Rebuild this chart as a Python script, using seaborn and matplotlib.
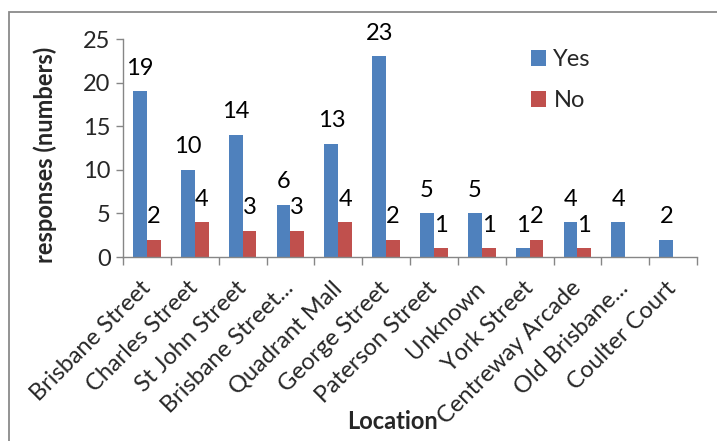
import numpy as np
import pandas as pd
import matplotlib
matplotlib.use("Agg")
import matplotlib.pyplot as plt
from matplotlib.patches import Patch, Rectangle
import seaborn as sns

# Survey responses by location
locations = ["Brisbane Street", "Charles Street", "St John Street", "Brisbane Street...",
             "Quadrant Mall", "George Street", "Paterson Street", "Unknown",
             "York Street", "Centreway Arcade", "Old Brisbane...", "Coulter Court"]
yes_counts = [19, 10, 14, 6, 13, 23, 5, 5, 1, 4, 4, 2]
no_counts = [2, 4, 3, 3, 4, 2, 1, 1, 2, 1, np.nan, np.nan]
series = ["Yes", "No"]
series_colors = ["#4F81BD", "#C0504D"]
y_ticks = [0, 5, 10, 15, 20, 25]

df = pd.DataFrame({
    "Location": locations * 2,
    "Response": ["Yes"] * len(locations) + ["No"] * len(locations),
    "Count": yes_counts + no_counts,
}).dropna()

sns.set_style("white")
plt.rcParams["font.family"] = ["Lato", "DejaVu Sans"]
FS = 17
AX_GREY = "#868686"

fig = plt.figure(figsize=(7.17, 4.41), dpi=100)
ax = fig.add_axes([123 / 717, 1 - 257 / 441, (697 - 123) / 717, (257 - 39) / 441])

sns.barplot(data=df, x="Location", y="Count", hue="Response",
            order=locations, hue_order=series, palette=series_colors,
            width=0.575, saturation=1, linewidth=0, ax=ax, legend=False)

# value labels above each bar
for cont in ax.containers:
    labels = [f"{v:g}" if np.isfinite(v) else "" for v in cont.datavalues]
    ax.bar_label(cont, labels=labels, padding=9, fontsize=FS, color="black")

ax.set_ylim(0, 25)
ax.set_xlim(-0.5, len(locations) - 0.5)
ax.set_yticks(y_ticks)
ax.tick_params(axis="y", direction="out", length=5, width=1, color=AX_GREY,
               labelsize=FS, pad=4, left=True)

# category separators on the x axis
ax.set_xticks(np.arange(len(locations)))
ax.set_xticks(np.arange(-0.5, len(locations)), minor=True)
ax.tick_params(axis="x", which="major", length=0, pad=20, labelsize=FS)
ax.tick_params(axis="x", which="minor", direction="out", length=6, width=1,
               color=AX_GREY, bottom=True)
ax.set_xticklabels(locations, rotation=45, ha="right", va="center",
                   rotation_mode="anchor")

for side in ["top", "right"]:
    ax.spines[side].set_visible(False)
for side in ["left", "bottom"]:
    ax.spines[side].set_color(AX_GREY)
    ax.spines[side].set_linewidth(1)

ax.set_ylabel("responses (numbers)", fontsize=FS, fontweight="bold")
ax.yaxis.set_label_coords(-0.115, 0.47)
ax.set_xlabel("Location", fontsize=FS, fontweight="bold")
ax.xaxis.set_label_coords(0.469, -0.70)

handles = [Patch(facecolor=c, edgecolor="none", label=s)
           for s, c in zip(series, series_colors)]
fig.legend(handles=handles, loc="upper left",
           bbox_to_anchor=(531 / 717, 1 - 49 / 441), frameon=False,
           fontsize=FS, handlelength=0.65, handleheight=0.65,
           handletextpad=0.3, labelspacing=0.85, borderpad=0,
           borderaxespad=0)

# chart frame
fig.add_artist(Rectangle((9 / 717, -0.1), 1.2, (1 - 12 / 441) + 0.1,
                         transform=fig.transFigure, fill=False,
                         edgecolor="#8a8a8a", linewidth=1.3))

fig.savefig("out.png", dpi=100)
